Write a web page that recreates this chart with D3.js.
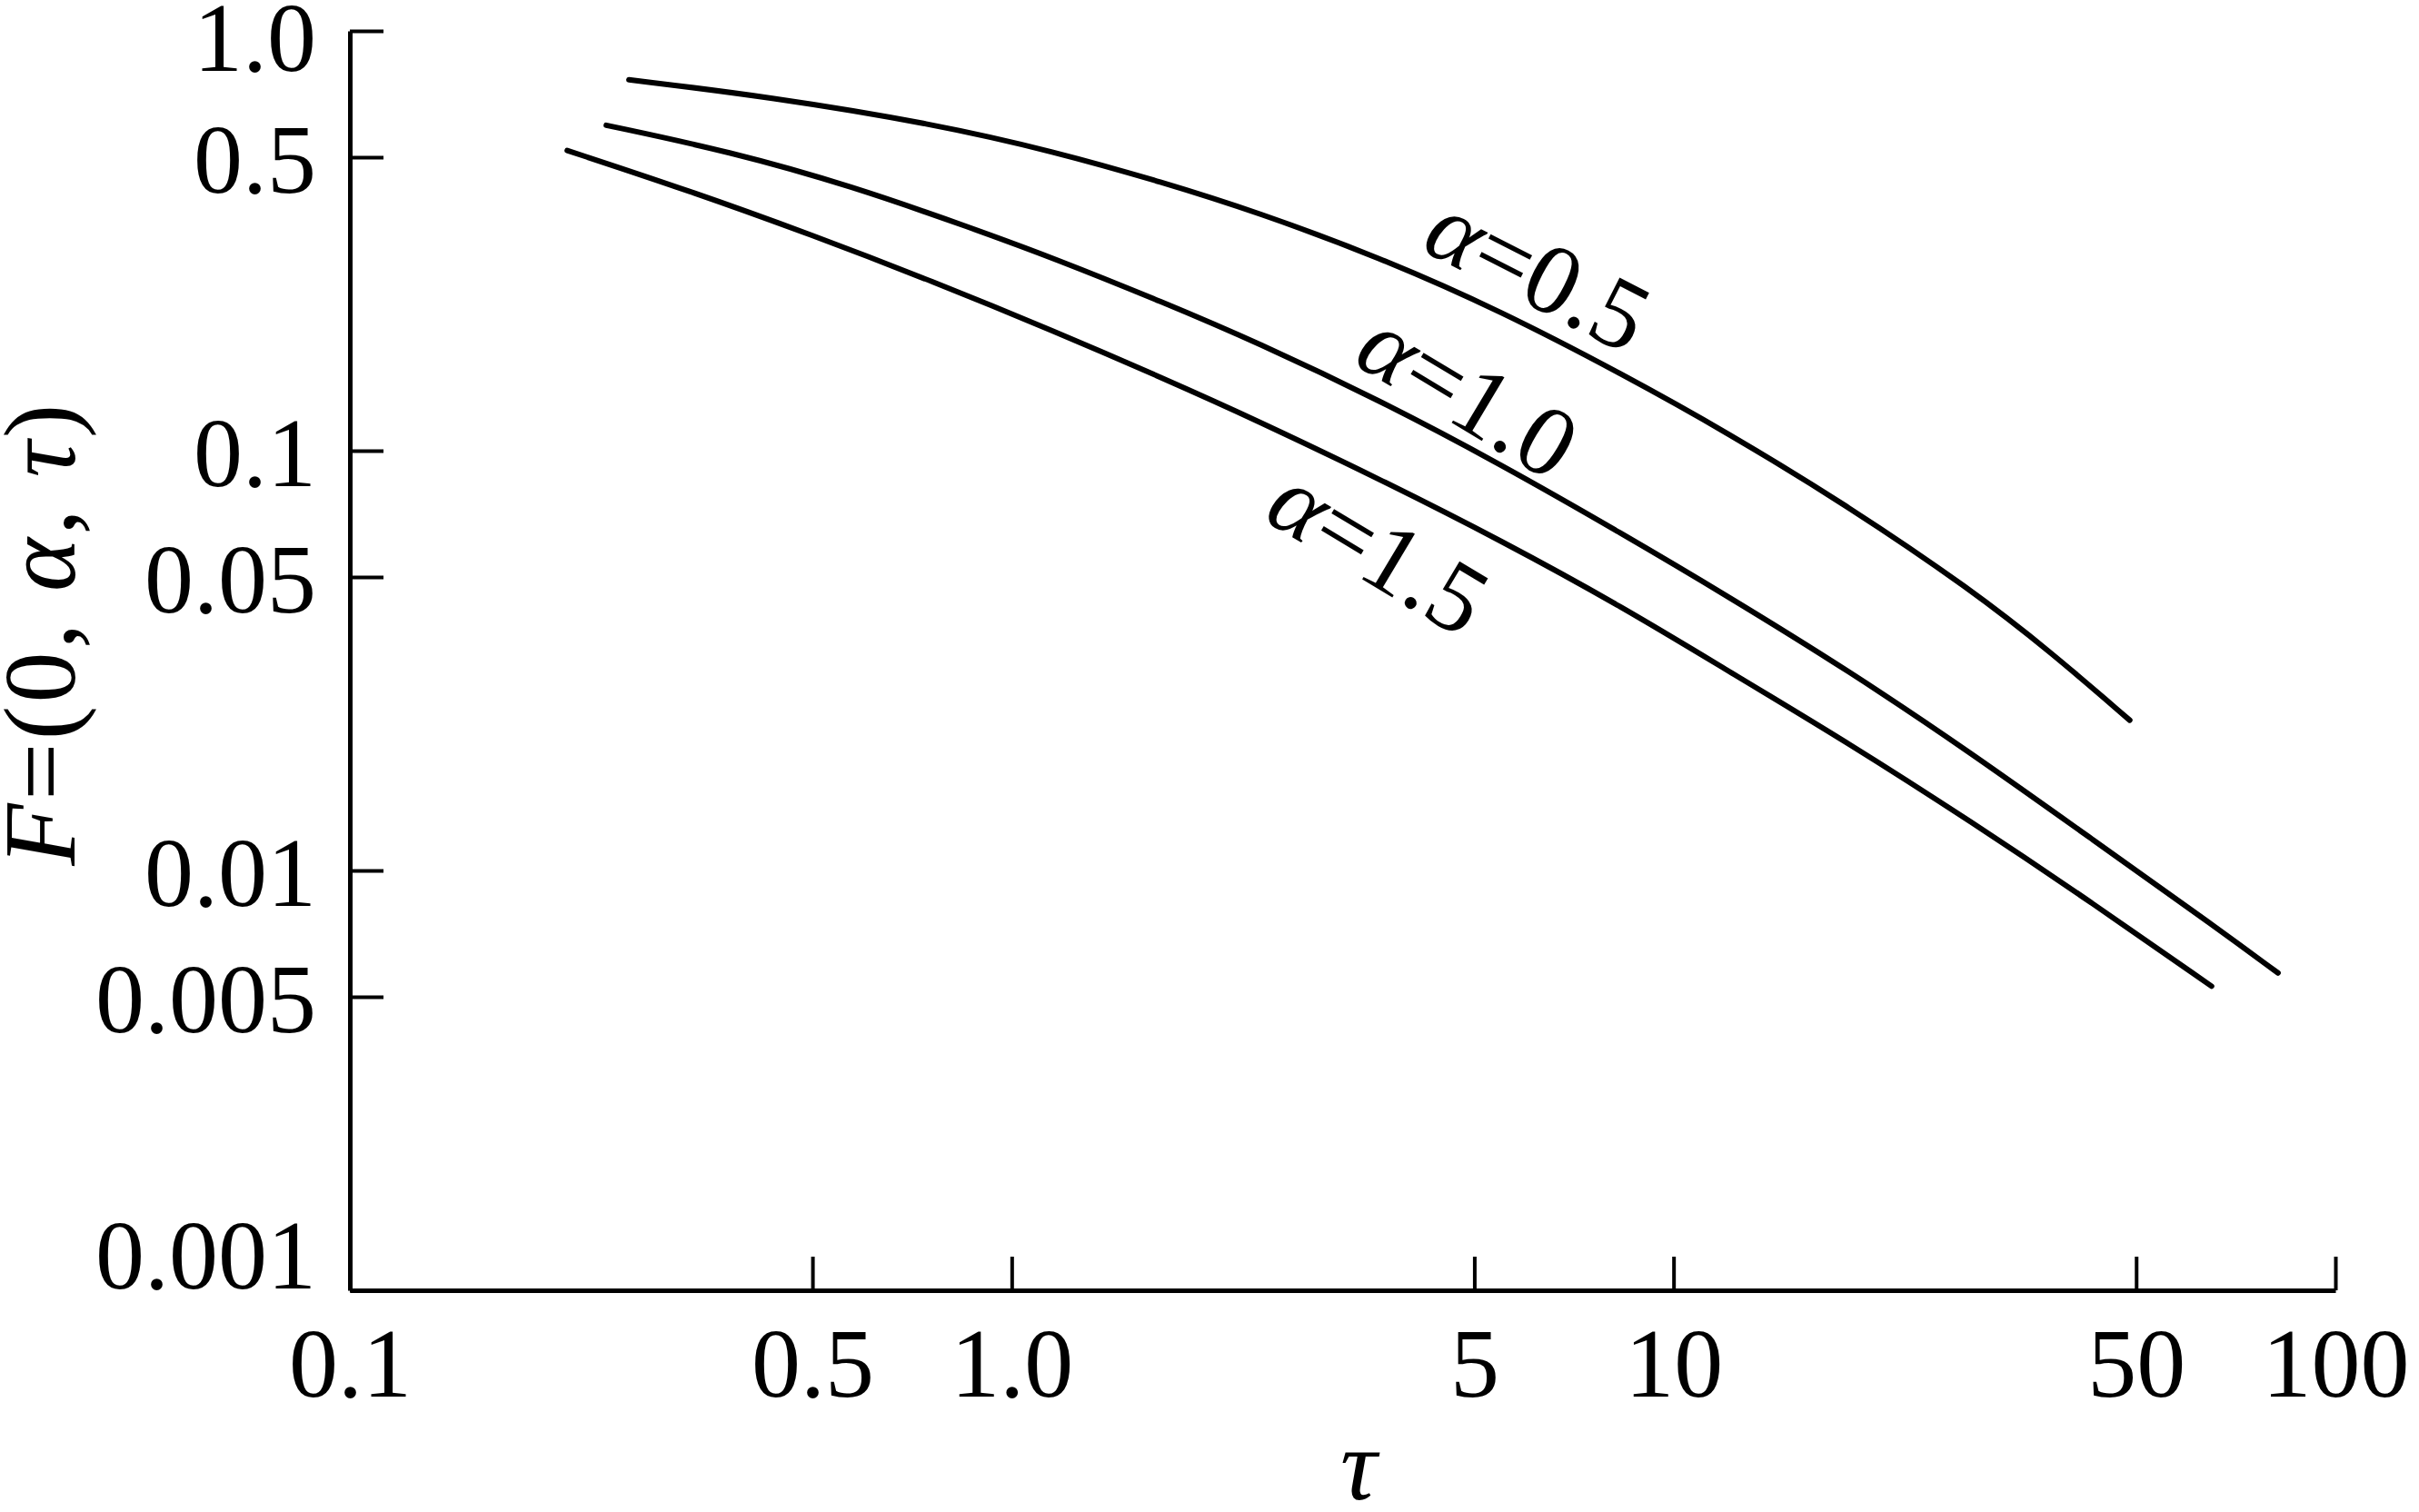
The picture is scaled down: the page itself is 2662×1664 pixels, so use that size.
<!DOCTYPE html>
<html>
<head>
	<title>F(0, alpha, tau)</title>
	<script src="https://d3js.org/d3.v7.min.js" charset="utf-8"></script>
	<style>
		body { margin: 0; background: #fff; }
		text { font-family: "Liberation Serif", "Times New Roman", serif; fill: #000; }
	</style>
</head>
<body>
	<svg width="2662" height="1664"></svg>
	<script>
		// curves (tau, F) for each alpha
		var tau_a05 = [0.264, 0.432, 0.76, 1.16, 1.69, 2.35, 3.59, 5.49, 8.38, 12.0, 18.4, 28.1, 37.2, 48.9];
		var F_a05   = [0.765, 0.696, 0.601, 0.516, 0.436, 0.370, 0.289, 0.215, 0.152, 0.111, 0.0736, 0.0468, 0.0331, 0.0228];

		var tau_a10 = [0.244, 0.375, 0.573, 0.875, 1.16, 1.69, 2.35, 3.59, 5.49, 8.38, 12.0, 18.4, 28.1, 42.8, 65.4, 81.9];
		var F_a10   = [0.596, 0.516, 0.427, 0.338, 0.287, 0.226, 0.181, 0.132, 0.0927, 0.0633, 0.0453, 0.0299, 0.0191, 0.0119, 0.0074, 0.0057];

		var tau_a15 = [0.213, 0.326, 0.498, 0.76, 1.16, 1.69, 2.35, 3.59, 5.49, 8.38, 12.0, 18.4, 28.1, 42.8, 65.0];
		var F_a15   = [0.519, 0.416, 0.327, 0.253, 0.1925, 0.149, 0.118, 0.0857, 0.0611, 0.0424, 0.0301, 0.0201, 0.0131, 0.0084, 0.0053];

		var alphas = ['0.5', '1.0', '1.5'];
		// where the alpha labels sit, in data units
		var labelTau = [6.25, 4.9, 3.59];
		var labelF   = [0.267, 0.137, 0.0581];

		var xTicks = [0.1, 0.5, 1, 5, 10, 50, 100];
		var xTickLabels = ['0.1', '0.5', '1.0', '5', '10', '50', '100'];
		var yTicks = [0.001, 0.005, 0.01, 0.05, 0.1, 0.5, 1];
		var yTickLabels = ['0.001', '0.005', '0.01', '0.05', '0.1', '0.5', '1.0'];

		var series = [
			{ tau: tau_a05, F: F_a05 },
			{ tau: tau_a10, F: F_a10 },
			{ tau: tau_a15, F: F_a15 }
		];

		var svg = d3.select('svg');

		const xScale = d3.scaleLog()
			.domain([0.1, 100])
			.range([385, 2570]);

		const yScale = d3.scaleLog()
			.domain([0.001, 1])
			.range([1420, 34]);

		// x axis, ticks pointing inward
		var xAxis = svg.append('g')
			.attr('transform', 'translate(0, 1420)')
			.call(d3.axisBottom(xScale)
				.tickValues(xTicks)
				.tickFormat(function(d, i) { return xTickLabels[i]; })
				.tickSizeInner(-37)
				.tickSizeOuter(0)
				.tickPadding(0));

		xAxis.select('.domain').attr('stroke', '#000').attr('stroke-width', 5);
		xAxis.selectAll('.tick line').attr('stroke', '#000').attr('stroke-width', 4);
		xAxis.selectAll('.tick text')
			.attr('y', 117)
			.attr('dy', 0)
			.attr('font-size', 108);

		// y axis
		var yAxis = svg.append('g')
			.attr('transform', 'translate(385, 0)')
			.call(d3.axisLeft(yScale)
				.tickValues(yTicks)
				.tickFormat(function(d, i) { return yTickLabels[i]; })
				.tickSizeInner(-37)
				.tickSizeOuter(0)
				.tickPadding(0));

		yAxis.select('.domain').attr('stroke', '#000').attr('stroke-width', 5);
		yAxis.selectAll('.tick line').attr('stroke', '#000').attr('stroke-width', 4);
		yAxis.selectAll('.tick text')
			.attr('x', -37)
			.attr('font-size', 108)
			.attr('dy', function(d) { return d === 0.001 ? '-0.02em' : (d === 1 ? '0.4em' : '0.36em'); });

		// curves
		var line = d3.line()
			.x(function(d) { return xScale(d[0]); })
			.y(function(d) { return yScale(d[1]); })
			.curve(d3.curveBasis);

		svg.selectAll('.curve')
			.data(series)
			.enter()
			.append('path')
			.attr('class', 'curve')
			.attr('fill', 'none')
			.attr('stroke', '#000')
			.attr('stroke-width', 6)
			.attr('stroke-linecap', 'round')
			.attr('d', function(s) { return line(s.tau.map(function(t, i) { return [t, s.F[i]]; })); });

		// alpha labels along the curves
		var angles = [27, 31, 31];
		alphas.forEach(function(a, i) {
			var t = svg.append('text')
				.attr('transform', 'translate(' + xScale(labelTau[i]) + ',' + yScale(labelF[i]) + ') rotate(' + angles[i] + ')')
				.attr('text-anchor', 'middle')
				.attr('dy', '0.34em')
				.attr('font-size', 110);
			t.append('tspan').attr('font-style', 'italic').text('\u03b1');
			t.append('tspan').text('=' + a);
		});

		// axis titles
		svg.append('text')
			.attr('x', 1495)
			.attr('y', 1650)
			.attr('text-anchor', 'middle')
			.attr('font-size', 112)
			.attr('font-style', 'italic')
			.text('\u03c4');

		var yt = svg.append('text')
			.attr('transform', 'translate(46, 697) rotate(-90)')
			.attr('text-anchor', 'middle')
			.attr('dy', '0.32em')
			.attr('font-size', 112)
			.attr('letter-spacing', 3.5)
			.style('white-space', 'pre');
		yt.append('tspan').attr('font-style', 'italic').text('F');
		yt.append('tspan').text('=(0, ');
		yt.append('tspan').attr('font-style', 'italic').text('\u03b1');
		yt.append('tspan').text(', ');
		yt.append('tspan').attr('font-style', 'italic').text('\u03c4');
		yt.append('tspan').text(')');
	</script>
</body>
</html>
